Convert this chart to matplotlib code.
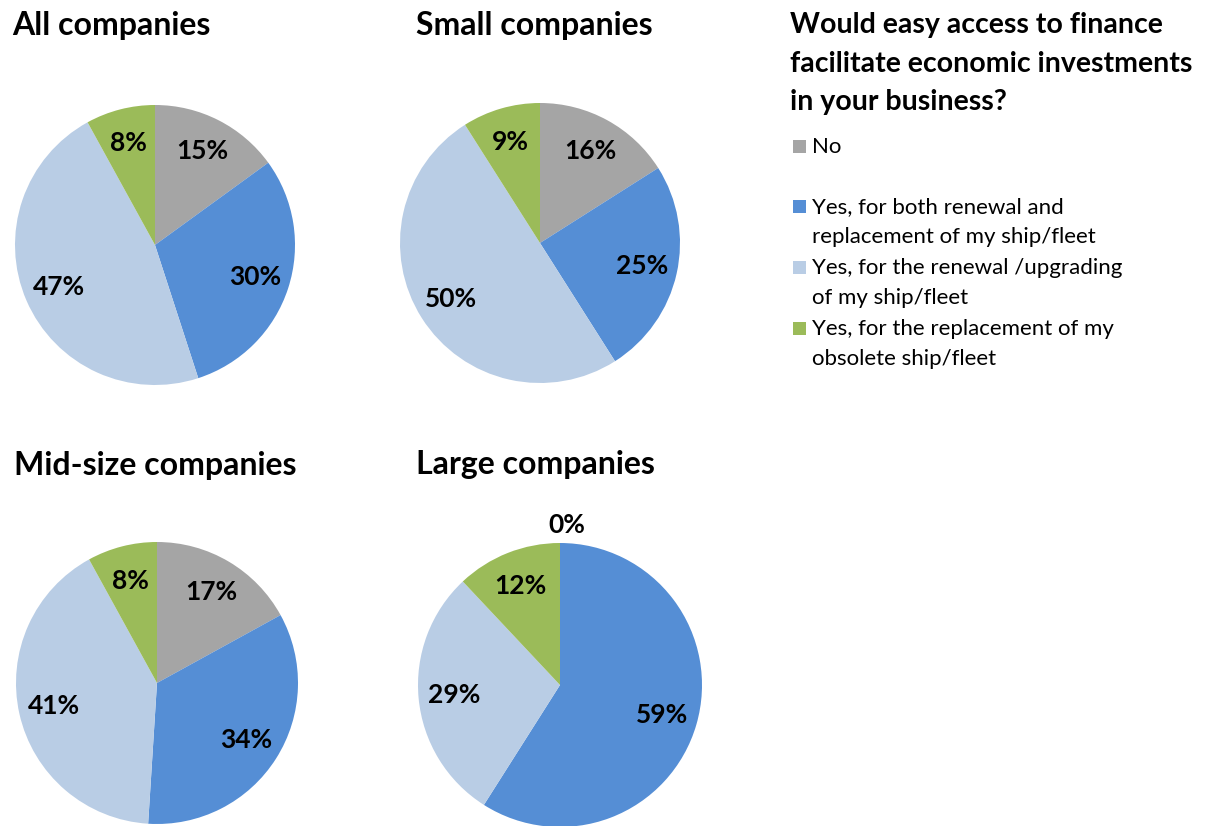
import matplotlib
matplotlib.use("Agg")
import matplotlib.pyplot as plt
from matplotlib.patches import Rectangle

plt.rcParams['font.family'] = ['Lato', 'DejaVu Sans']

W, H = 1222, 826

# survey answers, in slice order
answers = [
    "No",
    "Yes, for both renewal and\nreplacement of my ship/fleet",
    "Yes, for the renewal /upgrading\nof my ship/fleet",
    "Yes, for the replacement of my\nobsolete ship/fleet",
]
colors = ["#A5A5A5", "#558ED5", "#B9CDE5", "#9BBB59"]

groups = ["All companies", "Small companies", "Mid-size companies", "Large companies"]
all_vals = [15, 30, 47, 8]
small_vals = [16, 25, 50, 9]
mid_vals = [17, 34, 41, 8]
large_vals = [0, 59, 29, 12]
group_vals = [all_vals, small_vals, mid_vals, large_vals]

legend_title = "Would easy access to finance\nfacilitate economic investments\nin your business?"

# pixel layout: pie centre x, centre y, radius, title x, title baseline
layout = [
    (155, 245, 140, 12, 35),
    (540, 243, 140, 416, 35),
    (157, 683, 141, 14, 475),
    (560, 685, 142, 416, 474),
]

fig = plt.figure(figsize=(W / 100, H / 100), dpi=100)


def px(x, y):
    return x / W, 1 - y / H


for name, vals, (cx, cy, r, tx, ty) in zip(groups, group_vals, layout):
    ax = fig.add_axes([(cx - r) / W, (H - cy - r) / H, 2 * r / W, 2 * r / H])
    wedges, _, pcts = ax.pie(vals, colors=colors, startangle=90, counterclock=False,
                             radius=1, autopct=lambda p: "", pctdistance=0.75,
                             wedgeprops=dict(linewidth=0))
    for v, t in zip(vals, pcts):
        t.set_text(f"{v}%")
        t.set_fontsize(19)
        t.set_fontweight("bold")
        if v == 0:
            x, y = t.get_position()
            t.set_position((x + 0.05, 1.13))
    ax.set_xlim(-1, 1)
    ax.set_ylim(-1, 1)
    ax.axis("off")
    fig.text(*px(tx, ty), name, fontsize=23, fontweight="bold", va="baseline", ha="left")

# legend block on the right
title_lines = legend_title.split("\n")
for i, line in enumerate(title_lines):
    fig.text(*px(790, 33 + 38.5 * i), line, fontsize=20.5, fontweight="bold",
             va="baseline", ha="left")

entry_base = [153, 213, 274, 335]
for lab, col, yb in zip(answers, colors, entry_base):
    x0, y0 = px(793, yb)
    fig.patches.append(Rectangle((x0, y0), 13 / W, 13 / H, transform=fig.transFigure,
                                 facecolor=col, edgecolor="none"))
    for j, line in enumerate(lab.split("\n")):
        fig.text(*px(812, yb + 30 * j), line, fontsize=16, va="baseline", ha="left")

fig.savefig("out.png", dpi=100)
